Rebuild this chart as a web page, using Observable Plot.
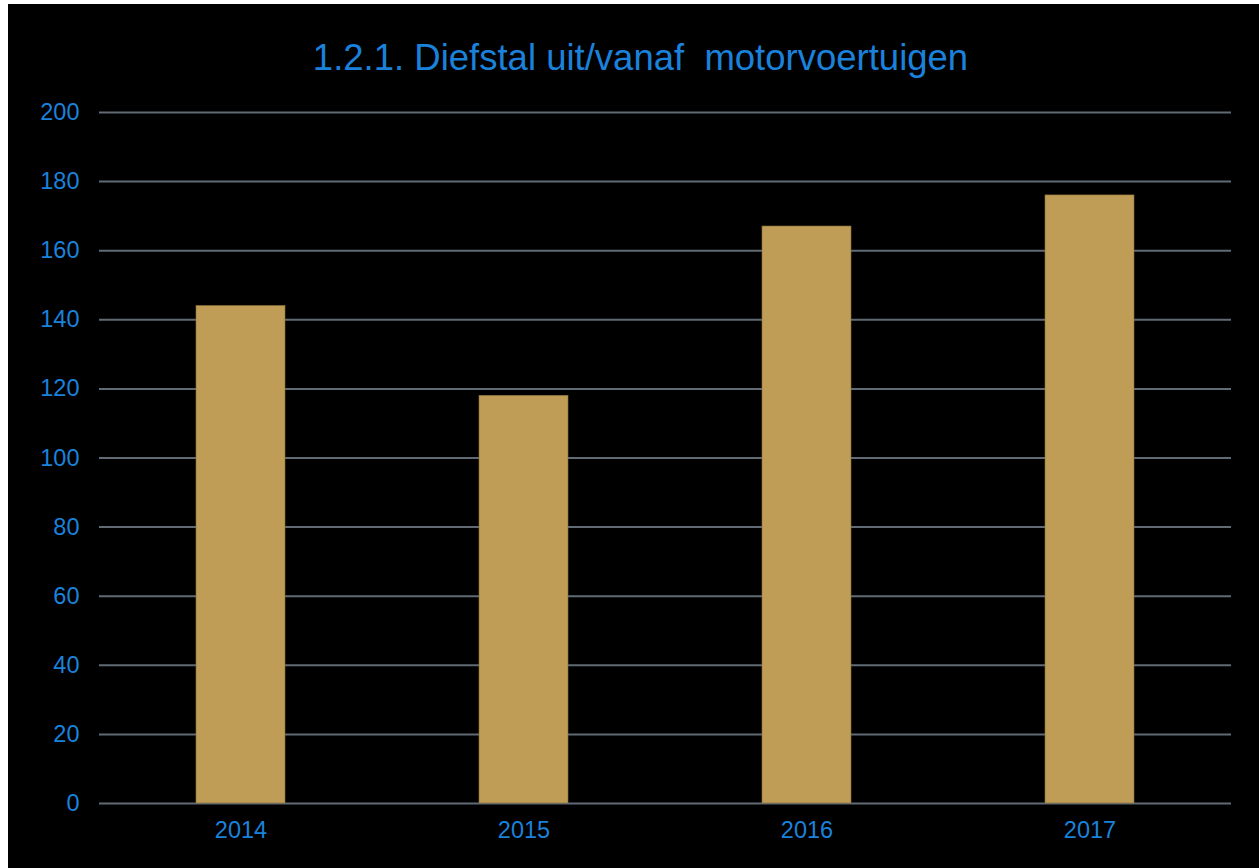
<!DOCTYPE html>
<html>
<head>
<meta charset="utf-8">
<script src="https://cdn.jsdelivr.net/npm/d3@7"></script>
<script src="https://cdn.jsdelivr.net/npm/@observablehq/plot@0.6"></script>
<style>
  html, body { margin: 0; padding: 0; background: #ffffff; }
  #frame { position: absolute; left: 8px; top: 4px; width: 1251px; height: 864px; background: #000000; overflow: hidden; }
  #title { position: absolute; left: 7px; top: 0; width: 1251px; height: 95px; text-align: center;
           font-family: "Liberation Sans", Arial, sans-serif; font-size: 36.5px; color: #1b82dc;
           line-height: 36px; padding-top: 36px; box-sizing: border-box; white-space: pre; }
  #chart { position: absolute; left: -8px; top: 95px; }
</style>
</head>
<body>
<div id="frame">
  <div id="title">1.2.1. Diefstal uit/vanaf  motorvoertuigen</div>
  <div id="chart"></div>
</div>
<script>
const years = ["2014", "2015", "2016", "2017"];
const values = [144, 118, 167, 176];
const yTicks = [0, 20, 40, 60, 80, 100, 120, 140, 160, 180, 200];

const data = years.map((y, i) => ({year: y, value: values[i]}));

const plot = Plot.plot({
  width: 1259,
  height: 769,
  marginLeft: 99,
  marginRight: 28,
  marginTop: 13,
  marginBottom: 65,
  style: {background: "transparent", fontFamily: "'Liberation Sans', Arial, sans-serif", fontSize: "23px", color: "#1b82dc"},
  x: {domain: years, paddingInner: 0.686, paddingOuter: 0.343, label: null},
  y: {domain: [0, 200], label: null},
  marks: [
    Plot.ruleY(yTicks, {stroke: "#606b75", strokeWidth: 2}),
    Plot.barY(data, {x: "year", y: "value", fill: "#bf9d57", stroke: "#8a6f3a", strokeWidth: 0.6}),
    Plot.axisY(yTicks, {tickSize: 0, tickPadding: 20, fill: "#1b82dc", fontSize: 23.5, label: null}),
    Plot.axisX({tickSize: 0, tickPadding: 18, fill: "#1b82dc", fontSize: 23.5, label: null})
  ]
});
document.getElementById("chart").appendChild(plot);
</script>
</body>
</html>
